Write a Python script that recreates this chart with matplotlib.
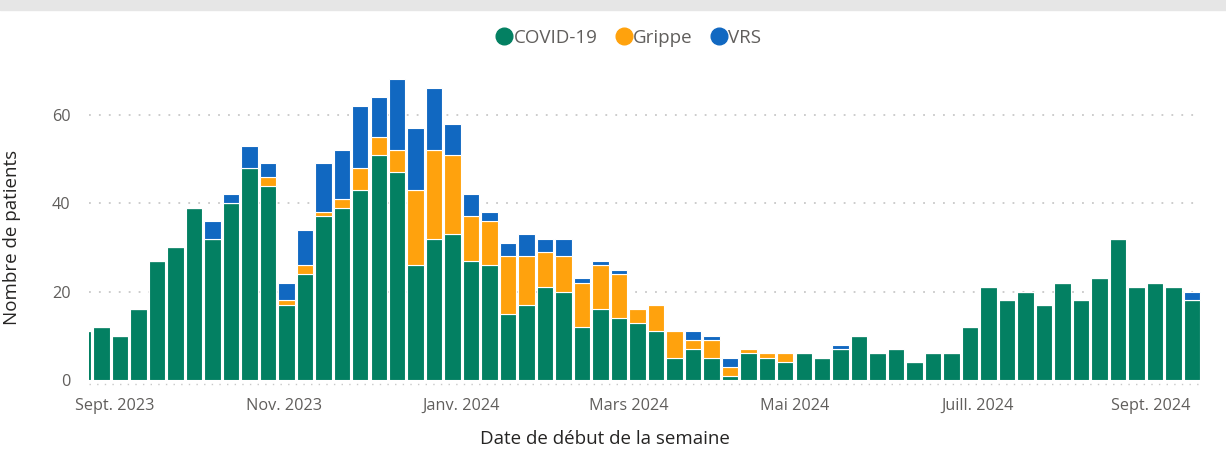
import matplotlib
matplotlib.use("Agg")
import matplotlib.pyplot as plt
from matplotlib.lines import Line2D
from matplotlib.patches import Rectangle
import numpy as np

plt.rcParams['font.family'] = ['Open Sans', 'DejaVu Sans']

# Weekly counts (first entry is a partially clipped week at the left edge)
covid = [11,
         12, 10, 16, 27, 30, 39, 32, 40, 48, 44,
         17, 24, 37, 39, 43, 51, 47, 26, 32, 33,
         27, 26, 15, 17, 21, 20, 12, 16, 14, 13,
         11, 5, 7, 5, 1, 6, 5, 4, 6, 5,
         7, 10, 6, 7, 4, 6, 6, 12, 21, 18,
         20, 17, 22, 18, 23, 32, 21, 22, 21, 18]
grippe = [0,
          0, 0, 0, 0, 0, 0, 0, 0, 0, 2,
          1, 2, 1, 2, 5, 4, 5, 17, 20, 18,
          10, 10, 13, 11, 8, 8, 10, 10, 10, 3,
          6, 6, 2, 4, 2, 1, 1, 2, 0, 0,
          0, 0, 0, 0, 0, 0, 0, 0, 0, 0,
          0, 0, 0, 0, 0, 0, 0, 0, 0, 0]
vrs = [0,
       0, 0, 0, 0, 0, 0, 4, 2, 5, 3,
       4, 8, 11, 11, 14, 9, 16, 14, 14, 7,
       5, 2, 3, 5, 3, 4, 1, 1, 1, 0,
       0, 0, 2, 1, 2, 0, 0, 0, 0, 0,
       1, 0, 0, 0, 0, 0, 0, 0, 0, 0,
       0, 0, 0, 0, 0, 0, 0, 0, 0, 2]

month_labels = ["Sept. 2023", "Nov. 2023", "Janv. 2024", "Mars 2024",
                "Mai 2024", "Juill. 2024", "Sept. 2024"]
month_pos = [1.73, 10.88, 20.45, 29.54, 38.52, 48.38, 57.8]

series_names = ["COVID-19", "Grippe", "VRS"]
colors = ["#038062", "#FFA20D", "#1168C1"]

W, H = 1226, 449
fig = plt.figure(figsize=(W/100, H/100), dpi=100)
fig.patches.append(Rectangle((0, 1 - 10/H), 1, 10/H, transform=fig.transFigure,
                             color="#E6E6E6", zorder=0))

ax = fig.add_axes([88.6/W, (H-380)/H, (1200.5-88.6)/W, (380-70.6)/H])
x = np.arange(len(covid))
c = np.array(covid); g = np.array(grippe); v = np.array(vrs)
bw = 0.89
ax.bar(x, c, width=bw, color=colors[0], edgecolor="white", linewidth=0.8, zorder=3)
ax.bar(x, g, width=bw, bottom=c, color=colors[1], edgecolor="white", linewidth=0.8, zorder=3)
ax.bar(x, v, width=bw, bottom=c+g, color=colors[2], edgecolor="white", linewidth=0.8, zorder=3)

ax.set_xlim(0.3, 60.47)
ax.set_ylim(0, 70)
ax.set_yticks([0, 20, 40, 60])
for yv in [20, 40, 60]:
    ax.axhline(yv, color="#C8C8C8", linewidth=1.3, linestyle=(0, (1, 4.5)), zorder=1)
ax.axhline(-0.9, color="#C8C8C8", linewidth=1.0, linestyle=(0, (1, 4.5)), zorder=1, clip_on=False)

ax.set_xticks(month_pos)
ax.set_xticklabels(month_labels)
ax.tick_params(axis='both', length=0, colors="#605E5C", labelsize=11.7)
ax.tick_params(axis='x', pad=13)
ax.tick_params(axis='y', pad=13)
for s in ax.spines.values():
    s.set_visible(False)

fig.text(12/W, 1 - 237/H, "Nombre de patients", rotation=90, ha="center", va="center",
         fontsize=13.5, color="#252423")
fig.text(605/W, 1 - 439/H, "Date de début de la semaine", ha="center", va="center",
         fontsize=13.5, color="#252423")

handles = [Line2D([0], [0], marker='o', linestyle='', markersize=12,
                  markerfacecolor=col, markeredgecolor=col) for col in colors]
leg = fig.legend(handles, series_names, loc="center", bbox_to_anchor=(628/W, 1 - 38/H),
                 ncol=3, frameon=False, fontsize=13.5, handletextpad=0.0,
                 columnspacing=0.9, handlelength=1.0, labelcolor="#605E5C")

fig.savefig("out.png", dpi=100)
